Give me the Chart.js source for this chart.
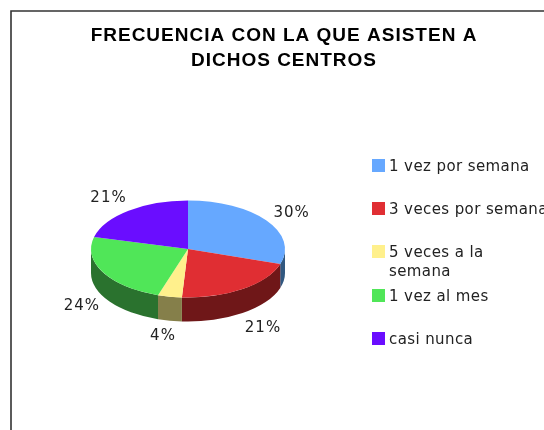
<!DOCTYPE html>
<html>
<head>
<meta charset="utf-8">
<style>html,body{margin:0;padding:0;background:#fff;overflow:hidden}canvas{display:block}</style>
<script src="https://cdn.jsdelivr.net/npm/chart.js@4"></script>
</head>
<body>
<canvas id="c" width="544" height="430" style="width:544px;height:430px"></canvas>
<script>
const titleLines = ["FRECUENCIA CON LA QUE ASISTEN A", "DICHOS CENTROS"];
const categories = ["1 vez por semana", "3 veces por semana", "5 veces a la semana", "1 vez al mes", "casi nunca"];
const legendLines = [["1 vez por semana"], ["3 veces por semana"], ["5 veces a la", "semana"], ["1 vez al mes"], ["casi nunca"]];
const values = [30, 21, 4, 24, 21];
const topColors = ["#66a8ff", "#e02e33", "#fff08c", "#50e658", "#6a0dff"];
const wallColors = ["#315880", "#6f1718", "#857f4a", "#2a722e", "#330680"];

const SQUASH = 0.5, DEPTH = 24;
const TEXT_FONT = '15px "DejaVu Sans"';
const TITLE_FONT = 'bold 19px "Liberation Sans"';
const labelNudge = [[0, 2], [3, 2], [-1, 0], [6, 2], [-1, 0]];

const pie3d = {
  id: 'pie3d',
  beforeDraw(chart) {
    const c = chart.ctx;
    c.save();
    c.fillStyle = '#fff';
    c.fillRect(0, 0, chart.width, chart.height);
    c.strokeStyle = '#333';
    c.lineWidth = 1.6;
    c.beginPath();
    c.moveTo(11, chart.height);
    c.lineTo(11, 11);
    c.lineTo(chart.width, 11);
    c.stroke();
    c.fillStyle = '#000';
    c.font = TITLE_FONT;
    c.letterSpacing = '1px';
    c.textAlign = 'center';
    c.textBaseline = 'middle';
    titleLines.forEach((t, i) => c.fillText(t, 284, 36 + i * 25));
    c.restore();
  },
  beforeDatasetsDraw(chart) {
    const c = chart.ctx;
    const arcs = chart.getDatasetMeta(0).data;
    c.save();
    arcs.forEach((a, i) => {
      const s = Math.max(a.startAngle, 0), e = Math.min(a.endAngle, Math.PI);
      if (e <= s) return;
      const ry = a.outerRadius * SQUASH;
      c.fillStyle = wallColors[i];
      c.beginPath();
      c.ellipse(a.x, a.y, a.outerRadius, ry, 0, s, e);
      c.ellipse(a.x, a.y + DEPTH, a.outerRadius, ry, 0, e, s, true);
      c.closePath();
      c.fill();
    });
    c.restore();
    const a0 = arcs[0];
    c.save();
    c.translate(a0.x, a0.y);
    c.scale(1, SQUASH);
    c.translate(-a0.x, -a0.y);
  },
  afterDatasetsDraw(chart) {
    const c = chart.ctx;
    c.restore();
    const arcs = chart.getDatasetMeta(0).data;
    c.save();
    c.font = TEXT_FONT;
    c.letterSpacing = '1px';
    c.fillStyle = '#222';
    c.textAlign = 'center';
    c.textBaseline = 'middle';
    arcs.forEach((a, i) => {
      const mid = (a.startAngle + a.endAngle) / 2;
      const sin = Math.sin(mid), cos = Math.cos(mid);
      const x = a.x + 1.32 * a.outerRadius * cos + labelNudge[i][0];
      const y = a.y + 1.32 * a.outerRadius * SQUASH * sin + (sin > 0 ? DEPTH : 0) + labelNudge[i][1];
      c.fillText(values[i] + '%', x, y);
    });
    c.letterSpacing = '0.4px';
    c.textAlign = 'left';
    c.textBaseline = 'alphabetic';
    legendLines.forEach((lines, i) => {
      const top = Math.round(159 + i * 43.2);
      c.fillStyle = topColors[i];
      c.fillRect(372, top, 13, 13);
      c.fillStyle = '#222';
      lines.forEach((t, j) => c.fillText(t, 389, top + 12 + j * 19));
    });
    c.restore();
  }
};

new Chart(document.getElementById('c'), {
  type: 'pie',
  data: {
    labels: categories,
    datasets: [{ data: values, backgroundColor: topColors, borderWidth: 0 }]
  },
  options: {
    responsive: false,
    animation: false,
    layout: { padding: { left: 91, right: 259, top: 152, bottom: 84 } },
    plugins: { legend: { display: false }, title: { display: false }, tooltip: { enabled: false } }
  },
  plugins: [pie3d]
});
</script>
</body>
</html>
